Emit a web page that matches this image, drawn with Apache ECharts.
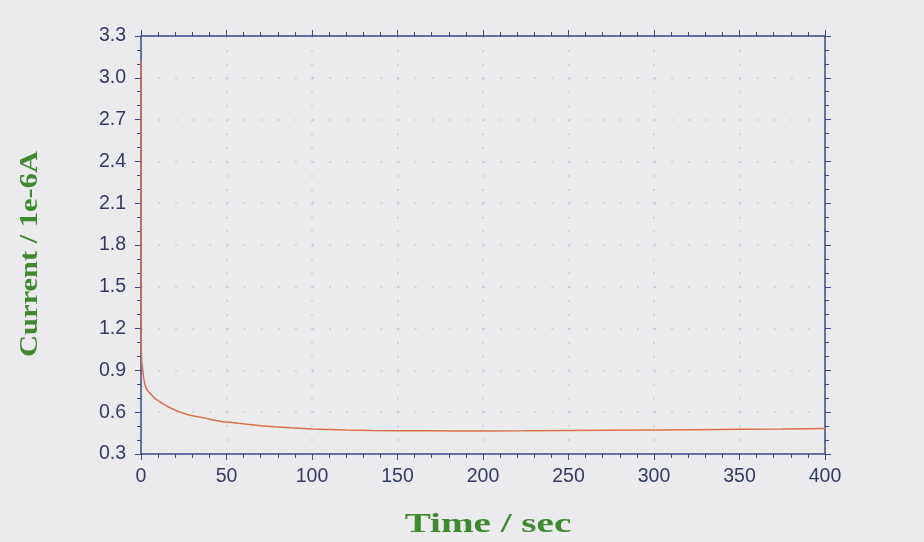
<!DOCTYPE html>
<html>
<head>
<meta charset="utf-8">
<script src="https://cdn.jsdelivr.net/npm/echarts@6/dist/echarts.min.js"></script>
<style>
  html, body { margin: 0; padding: 0; background: #ebebee; }
  #chart-container { width: 924px; height: 542px; }
</style>
</head>
<body>
<div id="chart-container"></div>
<script>
// time (sec) and current (1e-6 A)
var times = [0, 0.15, 0.4, 0.8, 1.5, 2.3, 3.5, 5.3, 8, 11, 14, 17, 20, 23, 28, 33, 38, 42, 48, 52, 57, 62, 70, 78, 87, 93, 100, 110, 120, 135, 150, 169, 185, 200, 225, 250, 270, 300, 325, 350, 375, 390, 400];
var currents = [3.12, 1.05, 0.97, 0.925, 0.85, 0.795, 0.76, 0.736, 0.7, 0.675, 0.653, 0.632, 0.615, 0.6, 0.58, 0.568, 0.556, 0.544, 0.532, 0.528, 0.52, 0.513, 0.503, 0.495, 0.488, 0.484, 0.48, 0.476, 0.472, 0.469, 0.467, 0.466, 0.465, 0.465, 0.466, 0.468, 0.47, 0.472, 0.474, 0.477, 0.479, 0.482, 0.483];
var xTicks = [0, 50, 100, 150, 200, 250, 300, 350, 400];
var yTicks = [0.3, 0.6, 0.9, 1.2, 1.5, 1.8, 2.1, 2.4, 2.7, 3.0, 3.3];
var xTitle = 'Time / sec';
var yTitle = 'Current / 1e-6A';

var dom = document.getElementById('chart-container');
var myChart = echarts.init(dom, null, { renderer: 'canvas' });

var axisColor = '#3b4a8c';
var labelColor = '#333b62';
var nameColor = '#3f8a2f';
var dotColor = '#c9c9d2';

var pts = times.map(function (t, i) { return [t, currents[i]]; });

// same box on all four sides, ticks pointing out
function frameAxis(extra) {
  return Object.assign({
    type: 'value',
    axisLine: { show: true, onZero: false, lineStyle: { color: axisColor, width: 1.5 } },
    axisTick: { show: true, length: 6, lineStyle: { color: axisColor } },
    axisLabel: { show: false },
    splitLine: { show: false }
  }, extra);
}

var option = {
  backgroundColor: '#ebebee',
  animation: false,
  grid: { left: 141, right: 99, top: 36, bottom: 88 },
  xAxis: [
    frameAxis({
      min: xTicks[0], max: xTicks[xTicks.length - 1], interval: 50, position: 'bottom',
      minorTick: { show: true, splitNumber: 5, length: 4, lineStyle: { color: axisColor } },
      axisLabel: { show: true, fontFamily: 'Liberation Sans', fontSize: 19.5, color: labelColor, margin: 13 },
      splitLine: { show: true, lineStyle: { color: dotColor, type: [2, 11.9], width: 1.5 } }
    }),
    frameAxis({
      min: xTicks[0], max: xTicks[xTicks.length - 1], interval: 50, position: 'top',
      minorTick: { show: true, splitNumber: 5, length: 4, lineStyle: { color: axisColor } }
    })
  ],
  yAxis: [
    frameAxis({
      min: yTicks[0], max: yTicks[yTicks.length - 1], interval: 0.3, position: 'left',
      minorTick: { show: true, splitNumber: 3, length: 4, lineStyle: { color: axisColor } },
      axisLabel: {
        show: true, fontFamily: 'Liberation Sans', fontSize: 19.5, color: labelColor, margin: 15,
        formatter: function (v) { return v.toFixed(1); }
      },
      splitLine: { show: true, lineStyle: { color: dotColor, type: [2, 15.1], width: 1.5 } }
    }),
    frameAxis({
      min: yTicks[0], max: yTicks[yTicks.length - 1], interval: 0.3, position: 'right',
      minorTick: { show: true, splitNumber: 3, length: 4, lineStyle: { color: axisColor } }
    })
  ],
  // axis titles: wide serif lettering like the scan
  graphic: [
    {
      type: 'text',
      x: 488, y: 525,
      scaleX: 1.45,
      style: {
        text: xTitle, font: 'bold 27px "Liberation Serif"', fill: nameColor,
        align: 'center', verticalAlign: 'middle'
      }
    },
    {
      type: 'text',
      x: 31, y: 254,
      rotation: Math.PI / 2,
      scaleX: 1.22,
      style: {
        text: yTitle, font: 'bold 25px "Liberation Serif"', fill: nameColor,
        align: 'center', verticalAlign: 'middle'
      }
    }
  ],
  series: [
    {
      name: 'Current',
      type: 'line',
      xAxisIndex: 0,
      yAxisIndex: 0,
      data: pts,
      showSymbol: false,
      lineStyle: { color: '#d8704c', width: 1.5 },
      z: 1
    }
  ]
};

if (option && typeof option === 'object') {
  myChart.setOption(option);
}

window.addEventListener('resize', myChart.resize);
</script>
</body>
</html>
